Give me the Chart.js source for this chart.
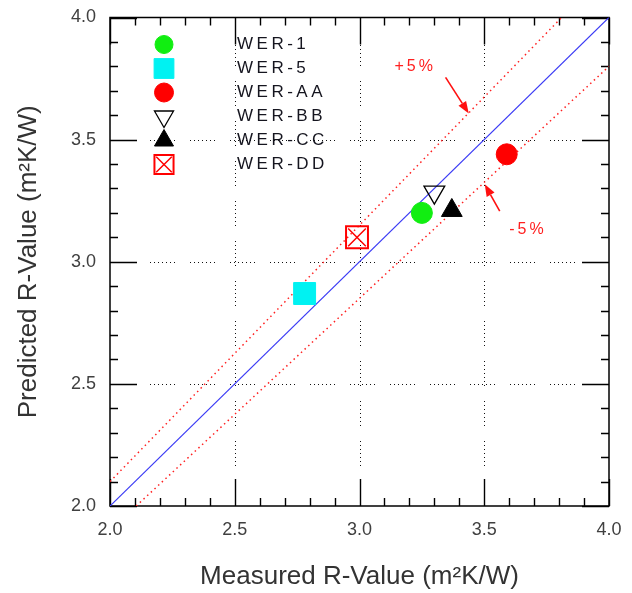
<!DOCTYPE html>
<html>
<head>
<meta charset="utf-8">
<script src="https://cdn.jsdelivr.net/npm/chart.js@4.4.1/dist/chart.umd.min.js"></script>
<style>
  html, body { margin: 0; padding: 0; background: #fff; }
  #contenedor { width: 632px; height: 593px; position: relative; }
</style>
</head>
<body>
<div id="contenedor"><canvas id="grafico-r"></canvas></div>
<script>
const nombres = ["WER-1", "WER-5", "WER-AA", "WER-BB", "WER-CC", "WER-DD"];
const medido = [3.25, 2.78, 3.59, 3.30, 3.37, 2.99];
const predicho = [3.20, 2.87, 3.44, 3.285, 3.21, 3.10];

// Líneas de referencia (1:1 y +/-5%)
const lineaIgualX = [2.0, 4.0];
const lineaIgualY = [2.0, 4.0];
const lineaMas5X = [2.0, 3.81];
const lineaMas5Y = [2.1, 4.0];
const lineaMenos5X = [2.105, 4.0];
const lineaMenos5Y = [2.0, 3.8];

// Ejes
const ejeMin = 2.0;
const ejeMax = 4.0;
const ticksMayores = [2.0, 2.5, 3.0, 3.5, 4.0];
const ticksMenores = [2.1, 2.2, 2.3, 2.4, 2.6, 2.7, 2.8, 2.9, 3.1, 3.2, 3.3, 3.4, 3.6, 3.7, 3.8, 3.9];

// Anotaciones
const etiquetas = ["+5%", "-5%"];
const etiquetaX = [3.217, 3.669];
const etiquetaY = [3.80, 3.133];
const flechaDesdeX = [3.345, 3.562];
const flechaDesdeY = [3.755, 3.207];
const flechaHastaX = [3.438, 3.502];
const flechaHastaY = [3.607, 3.317];

// Estilo de cada marcador
const estilos = [
  { forma: "circle", radio: 10.5, radioLeyenda: 9, relleno: "#11ee11", borde: "#11ee11", ancho: 1, rot: 0 },
  { forma: "rect", radio: 15.5, radioLeyenda: 14, relleno: "#00f2f2", borde: "#00f2f2", ancho: 1, rot: 0 },
  { forma: "circle", radio: 10.5, radioLeyenda: 9.5, relleno: "#ff0000", borde: "#ff0000", ancho: 1, rot: 0 },
  { forma: "triangle", radio: 12, radioLeyenda: 11, relleno: "rgba(0,0,0,0)", borde: "#000", ancho: 1.3, rot: 180 },
  { forma: "triangle", radio: 12, radioLeyenda: 11, relleno: "#000", borde: "#000", ancho: 1, rot: 0 },
  { forma: "rect", radio: 15.5, radioLeyenda: 13.5, relleno: "rgba(0,0,0,0)", borde: "#ff0000", ancho: 2, rot: 0, cruz: 12.5, cruzLeyenda: 11 },
];

const fuente = "'Liberation Sans', Arial, sans-serif";

const pares = (xs, ys) => xs.map((v, i) => ({ x: v, y: ys[i] }));

// Datasets de puntos
const datasets = [];
nombres.forEach((nombre, i) => {
  const e = estilos[i];
  datasets.push({
    label: nombre,
    data: [{ x: medido[i], y: predicho[i] }],
    pointStyle: e.forma,
    pointRadius: e.radio,
    pointRotation: e.rot,
    backgroundColor: e.relleno,
    borderColor: e.borde,
    borderWidth: e.ancho,
  });
  if (e.cruz) {
    datasets.push({
      label: nombre + " x",
      data: [{ x: medido[i], y: predicho[i] }],
      pointStyle: "crossRot",
      pointRadius: e.cruz,
      borderColor: e.borde,
      borderWidth: 1.5,
    });
  }
});

// Líneas
datasets.push({
  label: "1:1",
  data: pares(lineaIgualX, lineaIgualY),
  showLine: true,
  pointRadius: 0,
  borderColor: "#3a3af5",
  borderWidth: 1.2,
});
datasets.push({
  label: "+5%",
  data: pares(lineaMas5X, lineaMas5Y),
  showLine: true,
  pointRadius: 0,
  borderColor: "#ff2020",
  borderWidth: 1.5,
  borderDash: [1.5, 3.5],
});
datasets.push({
  label: "-5%",
  data: pares(lineaMenos5X, lineaMenos5Y),
  showLine: true,
  pointRadius: 0,
  borderColor: "#ff2020",
  borderWidth: 1.5,
  borderDash: [1.5, 3.5],
});

// Marco, rejilla punteada y marcas hacia dentro
const marcoPlugin = {
  id: "marco",
  beforeDatasetsDraw(chart) {
    const { ctx, chartArea: ca, scales: { x, y } } = chart;
    ctx.save();
    ctx.strokeStyle = "#111";
    ctx.lineWidth = 1;
    ctx.setLineDash([1, 3, 1, 3, 1, 3, 1, 3, 1, 3, 1, 3, 1, 15]);
    ticksMayores.forEach((v) => {
      if (v <= ejeMin || v >= ejeMax) return;
      const px = Math.round(x.getPixelForValue(v)) + 0.5;
      ctx.beginPath();
      ctx.moveTo(px, ca.bottom);
      ctx.lineTo(px, ca.top);
      ctx.stroke();
      const py = Math.round(y.getPixelForValue(v)) + 0.5;
      ctx.beginPath();
      ctx.moveTo(ca.left, py);
      ctx.lineTo(ca.right, py);
      ctx.stroke();
    });
    ctx.setLineDash([]);

    ctx.strokeStyle = "#000";
    ctx.lineWidth = 1.4;
    const marca = (v, largo) => {
      const px = Math.round(x.getPixelForValue(v)) + 0.5;
      const py = Math.round(y.getPixelForValue(v)) + 0.5;
      ctx.beginPath();
      ctx.moveTo(px, ca.bottom); ctx.lineTo(px, ca.bottom - largo);
      ctx.moveTo(px, ca.top); ctx.lineTo(px, ca.top + largo);
      ctx.moveTo(ca.left, py); ctx.lineTo(ca.left + largo, py);
      ctx.moveTo(ca.right, py); ctx.lineTo(ca.right - largo, py);
      ctx.stroke();
    };
    ticksMayores.forEach((v) => marca(v, 27));
    ticksMenores.forEach((v) => marca(v, 8));

    ctx.lineWidth = 1.5;
    ctx.strokeRect(ca.left, ca.top, ca.right - ca.left, ca.bottom - ca.top);
    ctx.restore();
  },
};

function textoEspaciado(ctx, texto, x, y, espacio) {
  let cx = x;
  for (const c of texto) {
    ctx.fillText(c, cx, y);
    cx += ctx.measureText(c).width + espacio;
  }
  return cx - espacio - x;
}

function dibujarMarcador(ctx, e, x, y, radio, radioCruz) {
  ctx.save();
  ctx.fillStyle = e.relleno;
  ctx.strokeStyle = e.borde;
  ctx.lineWidth = e.ancho;
  Chart.helpers.drawPoint(ctx, { pointStyle: e.forma, rotation: e.rot, radius: radio, borderWidth: e.ancho }, x, y);
  if (radioCruz) {
    ctx.lineWidth = 1.5;
    Chart.helpers.drawPoint(ctx, { pointStyle: "crossRot", rotation: 0, radius: radioCruz, borderWidth: 1.5 }, x, y);
  }
  ctx.restore();
}

// Leyenda interior y anotaciones +/-5%
const leyendaPlugin = {
  id: "leyenda",
  afterDatasetsDraw(chart) {
    const { ctx, chartArea: ca, scales: { x, y } } = chart;
    ctx.save();
    ctx.font = "17px " + fuente;
    ctx.textBaseline = "middle";
    ctx.textAlign = "left";
    nombres.forEach((nombre, i) => {
      const fy = ca.top + 27 + i * 24;
      const e = estilos[i];
      dibujarMarcador(ctx, e, ca.left + 54, fy, e.radioLeyenda, e.cruzLeyenda);
      ctx.fillStyle = "#15151f";
      textoEspaciado(ctx, nombre, ca.left + 127, fy, 3.5);
    });

    // flechas
    ctx.strokeStyle = "#ff1010";
    ctx.fillStyle = "#ff1010";
    ctx.lineWidth = 1.6;
    flechaDesdeX.forEach((v, i) => {
      const x0 = x.getPixelForValue(v), y0 = y.getPixelForValue(flechaDesdeY[i]);
      const x1 = x.getPixelForValue(flechaHastaX[i]), y1 = y.getPixelForValue(flechaHastaY[i]);
      const ang = Math.atan2(y1 - y0, x1 - x0);
      const largo = 12, medio = 4.5;
      const bx = x1 - Math.cos(ang) * largo, by = y1 - Math.sin(ang) * largo;
      ctx.beginPath();
      ctx.moveTo(x0, y0);
      ctx.lineTo(bx, by);
      ctx.stroke();
      ctx.beginPath();
      ctx.moveTo(x1, y1);
      ctx.lineTo(bx + Math.sin(ang) * medio, by - Math.cos(ang) * medio);
      ctx.lineTo(bx - Math.sin(ang) * medio, by + Math.cos(ang) * medio);
      ctx.closePath();
      ctx.fill();
    });

    ctx.font = "16px " + fuente;
    ctx.fillStyle = "#ff2020";
    etiquetas.forEach((t, i) => {
      const cx = x.getPixelForValue(etiquetaX[i]);
      const cy = y.getPixelForValue(etiquetaY[i]);
      let w = 0;
      for (const c of t) w += ctx.measureText(c).width;
      w += (t.length - 1) * 3;
      textoEspaciado(ctx, t, cx - w / 2, cy, 3);
    });
    ctx.restore();
  },
};

const etiquetaTick = (v) => (Math.abs(v * 2 - Math.round(v * 2)) < 1e-6 ? v.toFixed(1) : "");

const chart = new Chart(document.getElementById("grafico-r").getContext("2d"), {
  type: "scatter",
  data: { datasets: datasets },
  options: {
    responsive: true,
    maintainAspectRatio: false,
    animation: false,
    devicePixelRatio: 1,
    layout: { padding: { left: 0, right: 23, top: 16, bottom: 0 } },
    plugins: {
      legend: { display: false },
      tooltip: { enabled: false },
    },
    scales: {
      x: {
        type: "linear",
        min: ejeMin,
        max: ejeMax,
        afterFit: (s) => { s.height = 87; s.paddingLeft = 0; s.paddingRight = 0; },
        grid: { display: false, drawTicks: false },
        border: { display: false },
        ticks: {
          stepSize: 0.5,
          padding: 13,
          color: "#404040",
          font: { family: fuente, size: 18 },
          callback: etiquetaTick,
        },
        title: {
          display: true,
          text: "Measured R-Value (m²K/W)",
          color: "#333",
          font: { family: fuente, size: 26 },
          padding: { top: 0, bottom: 1 },
        },
      },
      y: {
        type: "linear",
        min: ejeMin,
        max: ejeMax,
        afterFit: (s) => { s.width = 110; s.paddingTop = 0; s.paddingBottom = 0; },
        grid: { display: false, drawTicks: false },
        border: { display: false },
        ticks: {
          stepSize: 0.5,
          padding: 14,
          color: "#404040",
          font: { family: fuente, size: 18 },
          callback: etiquetaTick,
        },
        title: {
          display: true,
          text: "Predicted R-Value (m²K/W)",
          color: "#333",
          font: { family: fuente, size: 26 },
          padding: { top: 13, bottom: 0 },
        },
      },
    },
  },
  plugins: [marcoPlugin, leyendaPlugin],
});
</script>
</body>
</html>
